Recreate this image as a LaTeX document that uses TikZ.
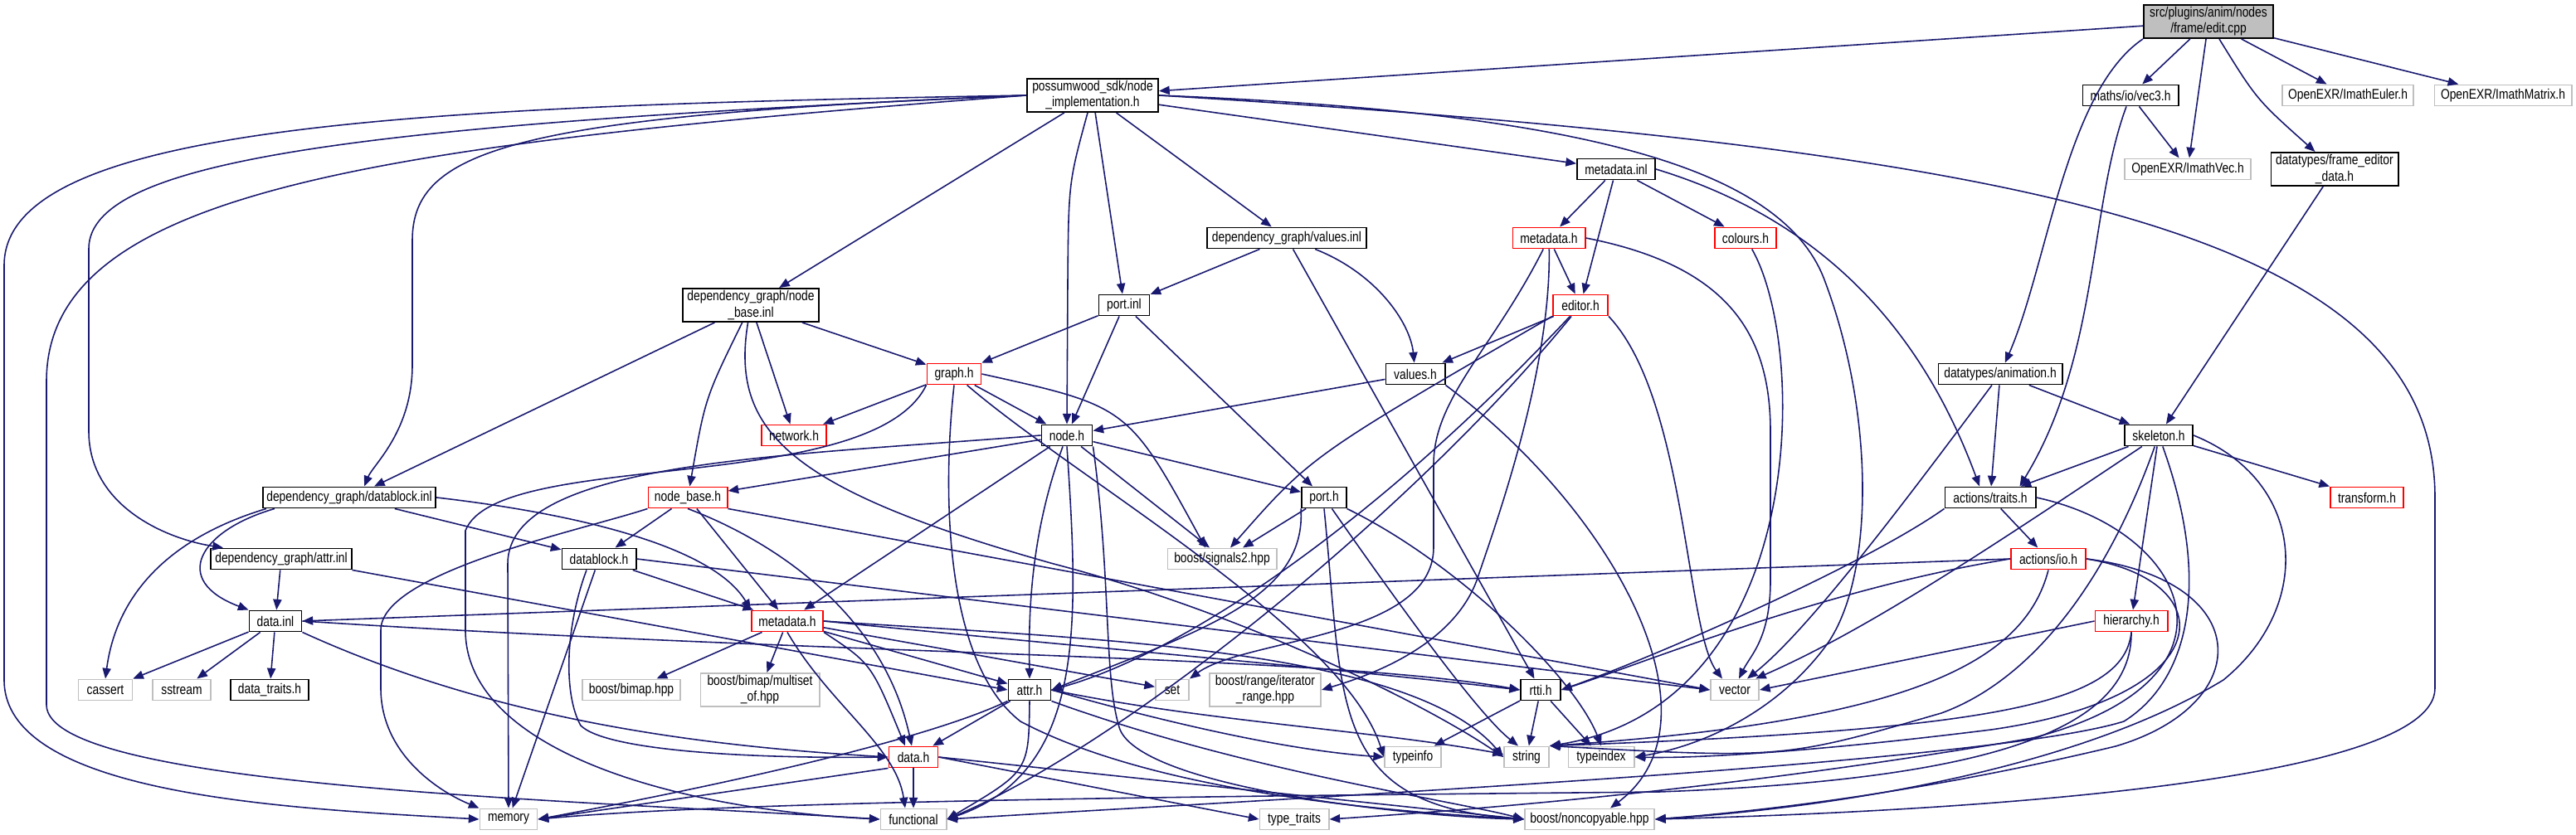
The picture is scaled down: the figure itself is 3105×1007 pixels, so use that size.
\documentclass[tikz,border=0pt]{standalone}
\usepackage{fontspec}
\setmainfont[FakeStretch=0.82]{Liberation Sans}
\usetikzlibrary{arrows.meta}
\definecolor{DoxEdge}{HTML}{191970}
\definecolor{DoxGray}{HTML}{BFBFBF}
\definecolor{DoxRed}{HTML}{FF0000}
\tikzset{
    % Box styles
    docfile/.style={
        rectangle,
        draw=black,
        fill=white,
        line width=0.55pt,
        minimum height=0.25cm,
        inner sep=0pt,
        align=center,
        font=\fontsize{4.8pt}{4.4pt}\selectfont
    },
    sysfile/.style={docfile, draw=DoxGray},
    cutfile/.style={docfile, draw=DoxRed},
    rootfile/.style={docfile, fill=DoxGray},
    twoline/.style={minimum height=0.40cm},
    % Arrow style
    incl/.style={
        -{Triangle[length=3.6pt, width=2.9pt]},
        draw=DoxEdge,
        line width=0.45pt
    }
}

\begin{document}
\begin{tikzpicture}[x=0.01cm, y=-0.01cm]
    \fill[white] (0,0) rectangle (3105,1007);
    \useasboundingbox (0,0) rectangle (3105,1007);

    % Top rows
    \node[rootfile, twoline, minimum width=1.56cm] (edit) at (2662,26) {src/plugins/anim/nodes\\/frame/edit.cpp};
    \node[docfile, twoline, minimum width=1.58cm] (nodeimpl) at (1317,115) {possumwood\_sdk/node\\\_implementation.h};
    \node[docfile, minimum width=1.15cm] (vec3) at (2568,115) {maths/io/vec3.h};
    \node[sysfile, minimum width=1.58cm] (euler) at (2830,115) {OpenEXR/ImathEuler.h};
    \node[sysfile, minimum width=1.65cm] (matrix) at (3017,115) {OpenEXR/ImathMatrix.h};
    \node[docfile, minimum width=0.94cm] (mdinl) at (1948,204) {metadata.inl};
    \node[sysfile, minimum width=1.52cm] (imathvec) at (2637,204) {OpenEXR/ImathVec.h};
    \node[docfile, twoline, minimum width=1.53cm] (frameed) at (2814,204) {datatypes/frame\_editor\\\_data.h};
    \node[docfile, minimum width=1.91cm] (valuesinl) at (1551,287) {dependency\_graph/values.inl};
    \node[cutfile, minimum width=0.87cm] (mdh) at (1867,287) {metadata.h};
    \node[cutfile, minimum width=0.74cm] (colours) at (2104,287) {colours.h};
    \node[docfile, twoline, minimum width=1.63cm] (nbinl) at (905,368) {dependency\_graph/node\\\_base.inl};
    \node[docfile, minimum width=0.61cm] (portinl) at (1355,368) {port.inl};
    \node[cutfile, minimum width=0.66cm] (editor) at (1905,368) {editor.h};
    \node[cutfile, minimum width=0.65cm] (graph) at (1150,451) {graph.h};
    \node[docfile, minimum width=0.71cm] (valuesh) at (1706,451) {values.h};
    \node[docfile, minimum width=1.49cm] (anim) at (2411,451) {datatypes/animation.h};
    \node[cutfile, minimum width=0.78cm] (network) at (957,525) {network.h};
    \node[docfile, minimum width=0.61cm] (nodeh) at (1286,525) {node.h};
    \node[docfile, minimum width=0.82cm] (skeleton) at (2602,525) {skeleton.h};

    % Middle rows
    \node[docfile, minimum width=2.08cm] (dbinl) at (421,600) {dependency\_graph/datablock.inl};
    \node[cutfile, minimum width=0.95cm] (nbh) at (829,600) {node\_base.h};
    \node[docfile, minimum width=0.54cm] (porth) at (1596,600) {port.h};
    \node[docfile, minimum width=1.09cm] (traits) at (2399,600) {actions/traits.h};
    \node[cutfile, minimum width=0.88cm] (transform) at (2853,600) {transform.h};
    \node[docfile, minimum width=1.69cm] (attrinl) at (339,674) {dependency\_graph/attr.inl};
    \node[docfile, minimum width=0.89cm] (dbh) at (722,674) {datablock.h};
    \node[sysfile, minimum width=1.31cm] (signals) at (1473,674) {boost/signals2.hpp};
    \node[cutfile, minimum width=0.90cm] (io) at (2469,674) {actions/io.h};
    \node[docfile, minimum width=0.63cm] (datainl) at (332,749) {data.inl};
    \node[cutfile, minimum width=0.86cm] (mdl) at (949,749) {metadata.h};
    \node[cutfile, minimum width=0.87cm] (hier) at (2569,749) {hierarchy.h};

    % Bottom rows
    \node[sysfile, minimum width=0.65cm] (cassert) at (127,832) {cassert};
    \node[sysfile, minimum width=0.70cm] (sstream) at (219,832) {sstream};
    \node[docfile, minimum width=0.94cm] (dtraits) at (325,832) {data\_traits.h};
    \node[sysfile, minimum width=1.18cm] (bimap) at (761,832) {boost/bimap.hpp};
    \node[sysfile, twoline, minimum width=1.43cm] (multiset) at (916,832) {boost/bimap/multiset\\\_of.hpp};
    \node[docfile, minimum width=0.51cm] (attrh) at (1241,832) {attr.h};
    \node[sysfile, minimum width=0.40cm] (set) at (1413,832) {set};
    \node[sysfile, twoline, minimum width=1.34cm] (range) at (1525,832) {boost/range/iterator\\\_range.hpp};
    \node[docfile, minimum width=0.48cm] (rtti) at (1857,832) {rtti.h};
    \node[sysfile, minimum width=0.58cm] (vector) at (2091,832) {vector};
    \node[cutfile, minimum width=0.59cm] (datah) at (1101,913) {data.h};
    \node[sysfile, minimum width=0.68cm] (typeinfo) at (1703,913) {typeinfo};
    \node[sysfile, minimum width=0.54cm] (string) at (1840,913) {string};
    \node[sysfile, minimum width=0.79cm] (typeindex) at (1930,913) {typeindex};
    \node[sysfile, minimum width=0.69cm] (memory) at (613,988) {memory};
    \node[sysfile, minimum width=0.79cm] (functional) at (1101,988) {functional};
    \node[sysfile, minimum width=0.83cm] (ttraits) at (1560,988) {type\_traits};
    \node[sysfile, minimum width=1.56cm] (noncopy) at (1916,988) {boost/noncopyable.hpp};

    % edit.cpp
    \draw[incl] (edit) -- (nodeimpl);
    \draw[incl] (edit) -- (vec3);
    \draw[incl] (edit) -- (imathvec);
    \draw[incl] (edit) -- (euler);
    \draw[incl] (edit) -- (matrix);
    \draw[incl] (edit) .. controls (2720,120) .. (frameed);
    \draw[incl] (edit.south west) .. controls (2490,110) and (2468,320) .. (anim);
    \draw[incl] (vec3) -- (imathvec);
    \draw[incl] (vec3) .. controls (2518,250) and (2530,430) .. ([xshift=-0.2cm]traits.north east);
    \draw[incl] (frameed) -- (skeleton);

    % node_implementation.h
    \draw[incl] (nodeimpl.west) .. controls (500,128) and (5,150) .. (5,320) -- (5,820) .. controls (5,960) and (350,975) .. (memory.west);
    \draw[incl] (nodeimpl.west) .. controls (450,175) and (56,230) .. (56,460) -- (56,850) .. controls (56,950) and (700,965) .. (functional.west);
    \draw[incl] (nodeimpl.west) .. controls (450,150) and (107,190) .. (107,300) -- (107,520) .. controls (107,610) and (200,650) .. ([xshift=-0.7cm]attrinl.north);
    \draw[incl] (nodeimpl.west) .. controls (620,140) and (497,180) .. (497,290) -- (497,440) .. controls (497,520) and (450,560) .. ([xshift=0.18cm]dbinl.north);
    \draw[incl] (nodeimpl) -- (nbinl);
    \draw[incl] ([xshift=-0.06cm]nodeimpl.south) .. controls (1288,220) .. (1287,340) -- (nodeh.north);
    \draw[incl] (nodeimpl) -- (portinl);
    \draw[incl] (nodeimpl) -- (valuesinl);
    \draw[incl] (nodeimpl) -- (mdinl);
    \draw[incl] (nodeimpl.east) .. controls (2450,180) and (2935,280) .. (2935,600) -- (2935,830) .. controls (2935,950) and (2300,980) .. (noncopy.east);
    \draw[incl] (nodeimpl.east) .. controls (1900,135) and (2150,200) .. (2200,340) .. controls (2260,500) and (2260,700) .. (2200,780) .. controls (2140,860) and (2050,900) .. (typeindex.east);

    % metadata.inl and metadata.h
    \draw[incl] (mdinl) -- (mdh);
    \draw[incl] (mdinl) -- (editor);
    \draw[incl] (mdinl) -- (colours);
    \draw[incl] (mdinl.east) .. controls (2180,260) and (2310,380) .. ([xshift=-0.13cm]traits.north);
    \draw[incl] (mdh) -- (editor);
    \draw[incl] (mdh) .. controls (1800,420) and (1728,480) .. (1728,560) -- (1728,660) .. controls (1728,770) and (1500,770) .. (set.north east);
    \draw[incl] (mdh) .. controls (1870,450) and (1800,640) .. (1780,700) .. controls (1750,780) and (1650,815) .. (range.east);
    \draw[incl] (mdh.east) .. controls (2080,320) and (2134,400) .. (2134,520) -- (2134,700) .. controls (2134,770) and (2110,790) .. ([xshift=0.05cm]vector.north);
    \draw[incl] (colours) .. controls (2180,420) and (2180,850) .. (string.north east);

    % values.inl, editor.h, values.h
    \draw[incl] (valuesinl) -- (portinl);
    \draw[incl] (valuesinl) .. controls (1660,330) and (1700,390) .. (valuesh);
    \draw[incl] (valuesinl) -- (rtti);
    \draw[incl] (editor) -- (valuesh);
    \draw[incl] (editor.south west) .. controls (1580,550) .. ([xshift=0.1cm]signals.north);
    \draw[incl] (editor) .. controls (1650,640) and (1420,790) .. (attrh.east);
    \draw[incl] (editor.south east) .. controls (2032,480) and (2032,760) .. ([xshift=-0.15cm]vector.north);
    \draw[incl] (editor) .. controls (1700,620) and (1350,900) .. (functional.east);
    \draw[incl] (valuesh) -- (nodeh);
    \draw[incl] (valuesh.south east) .. controls (1950,620) and (2080,870) .. ([xshift=0.25cm]noncopy.north);

    % port.inl, node_base.inl
    \draw[incl] (portinl) -- (graph);
    \draw[incl] (portinl) -- (nodeh);
    \draw[incl] (portinl) -- (porth);
    \draw[incl] (nbinl) -- ([xshift=0.3cm]dbinl.north);
    \draw[incl] (nbinl) -- (graph);
    \draw[incl] (nbinl) -- (network);
    \draw[incl] (nbinl) .. controls (850,480) .. (nbh);
    \draw[incl] (nbinl) .. controls (880,520) and (950,590) .. (1270,680) .. controls (1500,740) and (1720,850) .. (string.west);

    % graph.h
    \draw[incl] (graph) -- (network);
    \draw[incl] (graph) -- (nodeh);
    \draw[incl] (graph.east) .. controls (1360,490) .. ([xshift=-0.2cm]signals.north);
    \draw[incl] (graph.south) .. controls (1135,600) and (1140,800) .. (1230,870) .. controls (1400,960) and (1700,980) .. (noncopy.west);
    \draw[incl] (graph.south west) .. controls (1050,600) and (600,540) .. (561,640) -- (561,760) .. controls (561,900) and (800,975) .. (functional.west);
    \draw[incl] (graph) .. controls (1300,580) and (1620,760) .. (typeinfo.west);

    % node.h
    \draw[incl] (nodeh) -- (nbh);
    \draw[incl] (nodeh) -- (porth);
    \draw[incl] (nodeh) -- ([xshift=-0.15cm]signals.north);
    \draw[incl] (nodeh) .. controls (1240,650) and (1240,750) .. (attrh.north);
    \draw[incl] (nodeh) -- (mdl);
    \draw[incl] (nodeh.south) .. controls (1300,750) and (1310,930) .. (functional.east);
    \draw[incl] (nodeh.west) .. controls (950,550) and (612,555) .. (612,680) -- (memory.north);
    \draw[incl] (nodeh.south east) .. controls (1340,700) and (1330,820) .. (1350,880) .. controls (1380,950) and (1700,985) .. (noncopy.west);

    % node_base.h, port.h
    \draw[incl] (nbh) -- (dbh);
    \draw[incl] (nbh.south west) .. controls (700,640) and (459,690) .. (459,760) -- (459,830) .. controls (459,910) and (530,955) .. (memory.north west);
    \draw[incl] (nbh) -- (mdl);
    \draw[incl] (nbh.south) .. controls (900,640) and (1060,720) .. ([xshift=-0.02cm]datah.north);
    \draw[incl] (nbh.south east) -- (vector.west);
    \draw[incl] (porth) -- ([xshift=0.25cm]signals.north);
    \draw[incl] (porth.south west) .. controls (1575,720) and (1450,760) .. (attrh.east);
    \draw[incl] (porth) .. controls (1680,720) and (1780,860) .. ([xshift=-0.1cm]string.north);
    \draw[incl] (porth) .. controls (1760,680) and (1900,820) .. (typeindex.north);
    \draw[incl] (porth.south) .. controls (1620,850) and (1600,970) .. (noncopy.west);

    % attr.inl, datablock.inl, data.inl
    \draw[incl] (attrinl) -- (datainl);
    \draw[incl] (attrinl.south east) -- (attrh.west);
    \draw[incl] ([xshift=-0.9cm]dbinl.south) .. controls (240,640) and (205,700) .. (datainl.north west);
    \draw[incl] ([xshift=-1.0cm]dbinl.south) .. controls (200,650) and (140,720) .. (cassert.north);
    \draw[incl] (dbinl) -- (dbh);
    \draw[incl] (dbinl.east) .. controls (700,620) and (860,660) .. (mdl.north west);
    \draw[incl] (datainl) -- (cassert);
    \draw[incl] (datainl) -- (sstream);
    \draw[incl] (datainl) -- (dtraits);
    \draw[incl] (datainl.south east) .. controls (600,870) and (850,900) .. (datah.west);
    \draw[incl] (datainl.east) .. controls (1000,790) and (1600,790) .. (rtti.west);

    % datablock.h, metadata.h (lower)
    \draw[incl] (dbh) -- (mdl);
    \draw[incl] (dbh) -- (memory);
    \draw[incl] ([xshift=-0.15cm]dbh.south) .. controls (680,760) and (680,840) .. (700,875) .. controls (730,905) and (900,915) .. (datah.west);
    \draw[incl] (dbh.east) -- (vector.west);
    \draw[incl] (mdl) -- (attrh);
    \draw[incl] (mdl) -- (set);
    \draw[incl] (mdl) -- (bimap);
    \draw[incl] (mdl) -- (multiset);
    \draw[incl] (mdl.south) .. controls (1000,850) and (1080,900) .. ([xshift=-0.1cm]functional.north);
    \draw[incl] (mdl.south east) .. controls (1050,800) .. ([xshift=-0.1cm]datah.north);
    \draw[incl] (mdl.east) .. controls (1300,780) and (1600,805) .. (rtti.west);
    \draw[incl] (mdl.east) .. controls (1300,770) and (1700,780) .. (string.west);

    % attr.h, data.h, rtti.h
    \draw[incl] (attrh) -- (datah);
    \draw[incl] (attrh.south) .. controls (1240,930) .. (functional.east);
    \draw[incl] (attrh.south west) .. controls (1100,900) and (800,960) .. (memory.east);
    \draw[incl] (attrh.east) .. controls (1400,870) and (1550,905) .. (typeinfo.west);
    \draw[incl] (attrh.east) .. controls (1450,870) and (1650,880) .. ([yshift=1pt]string.west);
    \draw[incl] (attrh.south east) .. controls (1500,930) and (1750,965) .. (noncopy.west);
    \draw[incl] (datah) -- (functional);
    \draw[incl] (datah.south west) -- (memory.east);
    \draw[incl] (datah.east) -- (ttraits.west);
    \draw[incl] (datah.east) -- (noncopy.west);
    \draw[incl] (rtti) -- (typeinfo);
    \draw[incl] (rtti) -- (string);
    \draw[incl] (rtti) -- (typeindex);

    % animation.h, skeleton.h
    \draw[incl] (anim) -- (traits);
    \draw[incl] (anim) -- (skeleton);
    \draw[incl] (anim) .. controls (2300,600) and (2180,760) .. ([xshift=0.15cm]vector.north);
    \draw[incl] (skeleton) -- (traits);
    \draw[incl] (skeleton) -- (transform);
    \draw[incl] (skeleton) -- (hier);
    \draw[incl] (skeleton) .. controls (2400,660) and (2250,760) .. ([xshift=0.25cm]vector.north);
    \draw[incl] (skeleton) .. controls (2540,700) and (2450,820) .. (2340,860) .. controls (2150,915) .. (string.north east);
    \draw[incl] (skeleton) .. controls (2665,700) and (2640,820) .. (2560,870) .. controls (2400,920) and (1600,960) .. (functional.east);
    \draw[incl] (skeleton.east) .. controls (2780,580) and (2790,730) .. (2680,820) .. controls (2500,930) and (2200,975) .. (noncopy.east);

    % actions/traits.h, actions/io.h, hierarchy.h
    \draw[incl] (traits) -- (io);
    \draw[incl] (traits.south west) .. controls (2250,680) and (2000,790) .. (rtti.east);
    \draw[incl] (traits.east) .. controls (2640,640) and (2720,820) .. (2450,890) .. controls (2100,950) and (1800,975) .. (ttraits.east);
    \draw[incl] (io.west) -- (datainl.east);
    \draw[incl] (io.west) .. controls (2200,710) and (1980,800) .. (rtti.east);
    \draw[incl] (io.south) .. controls (2440,800) and (2300,870) .. (string.north east);
    \draw[incl] (io.east) .. controls (2680,700) and (2680,840) .. (2400,880) .. controls (2200,905) and (2050,915) .. (typeindex.east);
    \draw[incl] (io.east) .. controls (2720,700) and (2720,850) .. (2550,900) .. controls (2300,960) and (2100,980) .. (noncopy.east);
    \draw[incl] (hier.west) -- (vector.east);
    \draw[incl] (hier.south) .. controls (2560,850) and (2400,880) .. (string.north east);
    \draw[incl] (hier.south) .. controls (2570,880) and (2400,940) .. (2000,955) .. controls (1500,960) and (900,965) .. (memory.east);
\end{tikzpicture}
\end{document}
